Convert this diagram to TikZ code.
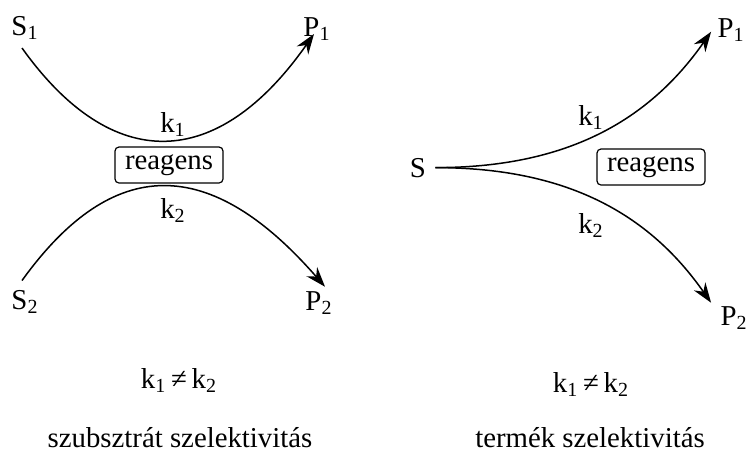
\documentclass[tikz,border=0pt]{standalone}
\usepackage{fontspec}
\setmainfont{Liberation Serif}
\usepackage{tikz}
\usetikzlibrary{arrows.meta}
\tikzset{
  species/.style={anchor=base, inner sep=1pt, font=\fontsize{14.4}{17}\selectfont},
  ratelab/.style={species},
  reagbox/.style={draw, rounded corners=2pt, line width=0.6pt, inner xsep=4pt,
    minimum width=54pt, minimum height=18pt, font=\fontsize{14.4}{17}\selectfont},
  rxn/.style={-{Stealth[length=10pt, width=7pt]}, line width=0.75pt},
}

\begin{document}
\begin{tikzpicture}[x=0.5pt, y=-0.5pt]
\useasboundingbox (0,0) rectangle (749,457);
% --- left: substrate selectivity ---
\node[species] (S1) at (25,35) {S\textsubscript{1}};
\node[species] (P1) at (317,36) {P\textsubscript{1}};
\node[species] (S2) at (25,309) {S\textsubscript{2}};
\node[species] (P2) at (319,310) {P\textsubscript{2}};
\node[ratelab] (k1a) at (173,132) {k\textsubscript{1}};
\node[ratelab] (k2a) at (173,218) {k\textsubscript{2}};
\node[reagbox] (reaga) at (169,165) {reagens};
\node[species] (neqa) at (179,388) {k\textsubscript{1}\,≠\,k\textsubscript{2}};
\node[species] (capa) at (180,447) {szubsztrát szelektivitás};
\draw[rxn] ([shift={(-3,13)}]S1.base) .. controls +(90,126) and +(-97,138) .. ([shift={(-3,-2)}]P1.base);
\draw[rxn] ([shift={(-3,-7)}]S2.north) .. controls +(85,-118) and +(-122,-140) .. ([shift={(6,-2)}]P2.north);
% --- right: product selectivity ---
\node[species] (S) at (418,177) {S};
\node[species] (Q1) at (731,37) {P\textsubscript{1}};
\node[species] (Q2) at (734,325) {P\textsubscript{2}};
\node[ratelab] (k1b) at (591,125) {k\textsubscript{1}};
\node[ratelab] (k2b) at (591,233) {k\textsubscript{2}};
\node[reagbox] (reagb) at (651,167) {reagens};
\node[species] (neqb) at (591,392) {k\textsubscript{1}\,≠\,k\textsubscript{2}};
\node[species] (capb) at (590,447) {termék szelektivitás};
\draw[rxn] ([shift={(7,0)}]S.east) .. controls +(130,0) and +(-63,90) .. ([shift={(-4,2)}]Q1.west);
\draw[rxn] ([shift={(7,0)}]S.east) .. controls +(130,0) and +(-63,-90) .. ([shift={(-7,-1)}]Q2.north west);
\end{tikzpicture}
\end{document}
